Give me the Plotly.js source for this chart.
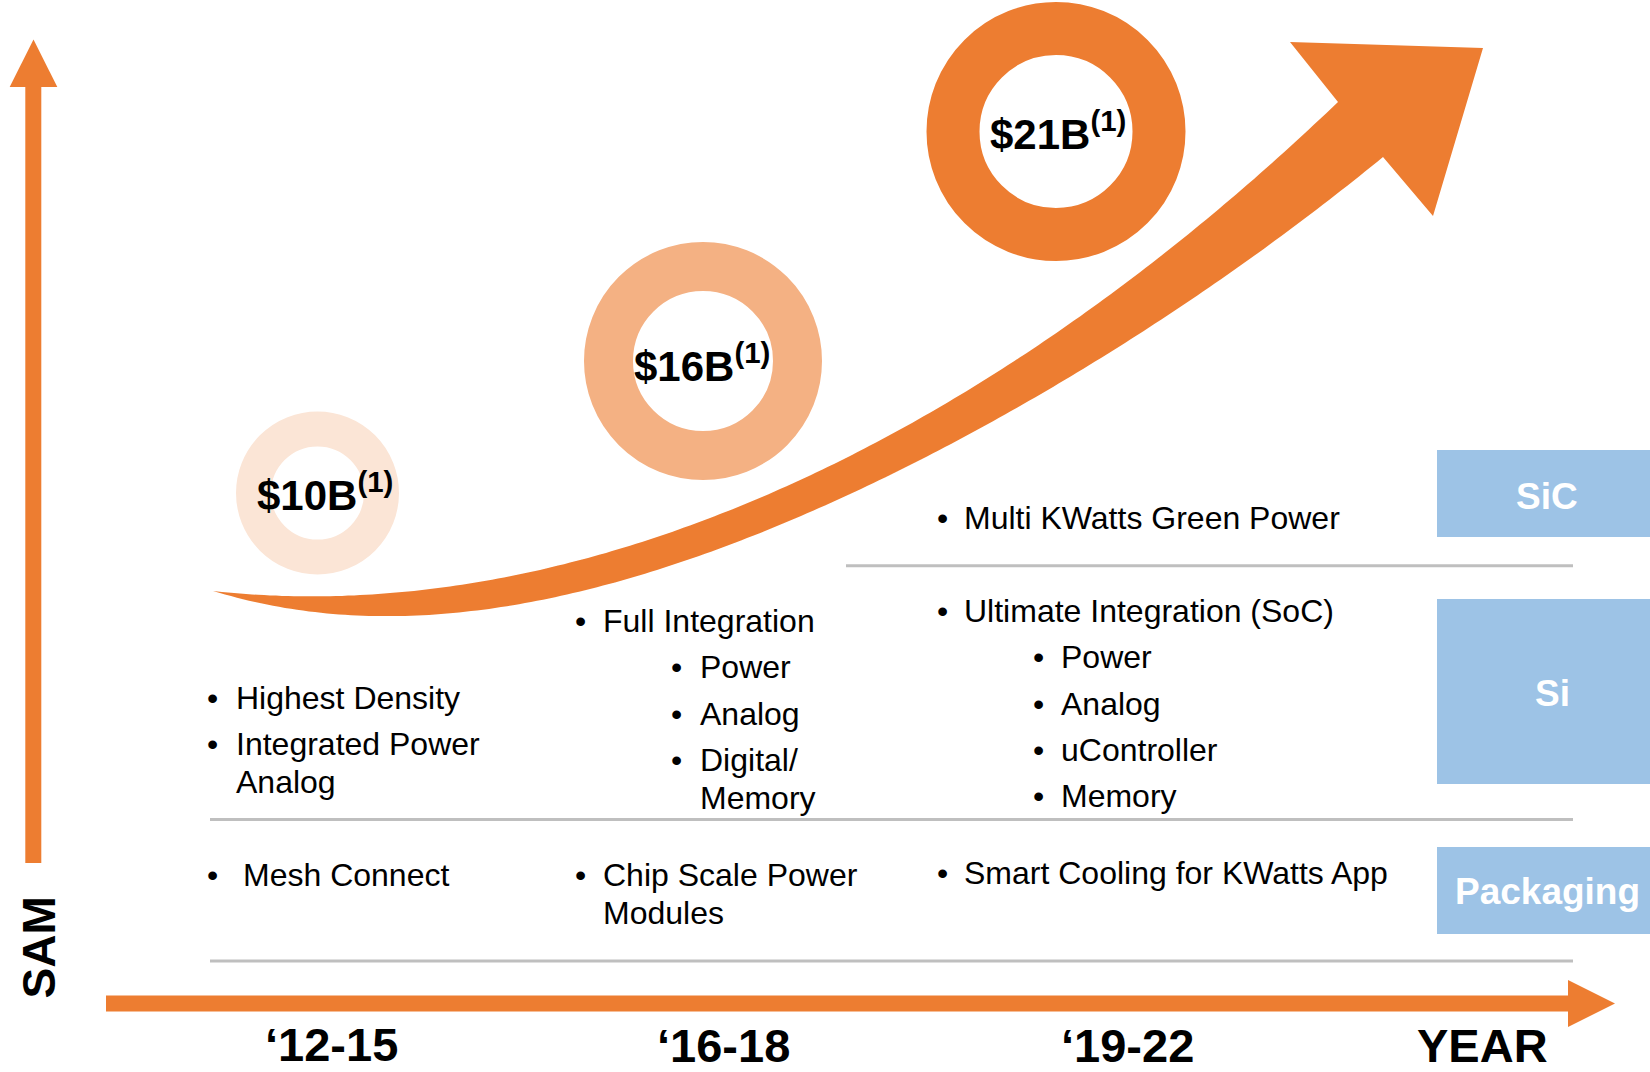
<!DOCTYPE html>
<html>
<head>
<meta charset="utf-8">
<script src="https://cdn.plot.ly/plotly-3.0.1.min.js"></script>
<style>html,body{margin:0;padding:0;background:#fff;}#chart{width:1650px;height:1072px;}</style>
</head>
<body>
<div id="chart"></div>
<script>
// ---------------- DATA ----------------
const periods = ["\u201812-15", "\u201816-18", "\u201819-22"];
const samBillions = [10, 16, 21];
const axisLabels = { y: "SAM", x: "YEAR" };
const techRows = ["SiC", "Si", "Packaging"];
// bullet items per period (each item = list of wrapped lines), with indent level
const sicItems = [[], [], [["Multi KWatts Green Power"]]];
const sicLevels = [[], [], [0]];
const siItems = [
  [["Highest Density"], ["Integrated Power", "Analog"]],
  [["Full Integration"], ["Power"], ["Analog"], ["Digital/", "Memory"]],
  [["Ultimate Integration (SoC)"], ["Power"], ["Analog"], ["uController"], ["Memory"]]
];
const siLevels = [[0, 0], [0, 1, 1, 1], [0, 1, 1, 1, 1]];
const pkgItems = [[["Mesh Connect"]], [["Chip Scale Power", "Modules"]], [["Smart Cooling for KWatts App"]]];
const pkgLevels = [[0], [0], [0]];

// ---------------- LAYOUT / STYLE ----------------
const FONT = "Arial, 'Liberation Sans', Helvetica, sans-serif";
const ORANGE = "#ed7d31";
const ringColors = ["#fbe5d6", "#f4b183", "#ed7d31"];
const ringGeom = [ // cx, cy, outer r, inner r, label cx, label cy
  {cx: 317.5, cy: 493, ro: 81.5, ri: 46.5, lx: 325, ly: 492},
  {cx: 703, cy: 361, ro: 119, ri: 70, lx: 702, ly: 363},
  {cx: 1056, cy: 131.5, ro: 129.5, ri: 76.5, lx: 1058, ly: 131}
];
const colBullet = [212, 580, 942];
const colText = [234, 601, 962];
const pkgText = [241, 601, 962];
const subIndent = 96.5;
const itemPitch = 46.3, wrapPitch = 38;
const sicY = [518, 518, 518];
const siY = [698, 621, 611];
const pkgY = [875, 875, 873];
const periodPos = [[331.5, 1044], [723, 1045], [1127.5, 1045]];
const yearPos = [1482.5, 1045];
const samPos = [38.5, 948];
const boxes = [ {y0: 450, y1: 537, ty: 496}, {y0: 599, y1: 784, ty: 693.5}, {y0: 847, y1: 934, ty: 891.5} ];
const boxX = [1437, 1660], boxTextX = [1547, 1552, 1547];
const BLUE = "#9dc3e6";
const sepLines = [ {x0: 846, x1: 1573, y: 565.7}, {x0: 210, x1: 1573, y: 819.5}, {x0: 210, x1: 1573, y: 961} ];

const shapes = [];
const annotations = [];
function ann(x, y, text, size, o) {
  o = o || {};
  annotations.push(Object.assign({
    x: x, y: y, xref: "x", yref: "y", text: text, showarrow: false,
    xanchor: "left", yanchor: "middle",
    font: {family: FONT, size: size, color: o.color || "#000", weight: o.weight || "normal"}
  }, o.extra || {}));
}

// separator lines
sepLines.forEach(l => shapes.push({type: "line", xref: "x", yref: "y", x0: l.x0, x1: l.x1, y0: l.y, y1: l.y,
  line: {color: "#bfbfbf", width: 3}, layer: "below"}));

// rings
ringGeom.forEach((g, i) => {
  const r = (g.ro + g.ri) / 2, w = g.ro - g.ri;
  shapes.push({type: "circle", xref: "x", yref: "y", x0: g.cx - r, x1: g.cx + r, y0: g.cy - r, y1: g.cy + r,
    line: {color: ringColors[i], width: w}, fillcolor: "rgba(0,0,0,0)", layer: "below"});
  ann(g.lx, g.ly, "$" + samBillions[i] + "B<sup>(1)</sup>", 42, {weight: "bold", extra: {xanchor: "center"}});
});

// axis arrows
shapes.push({type: "rect", xref: "x", yref: "y", x0: 25.3, x1: 41.3, y0: 86, y1: 863, fillcolor: ORANGE, line: {width: 0}});
shapes.push({type: "path", xref: "x", yref: "y", path: "M 9.7 87 L 33.5 39.5 L 57.3 87 Z", fillcolor: ORANGE, line: {width: 0}});
shapes.push({type: "rect", xref: "x", yref: "y", x0: 106, x1: 1569, y0: 995.5, y1: 1011.5, fillcolor: ORANGE, line: {width: 0}});
shapes.push({type: "path", xref: "x", yref: "y", path: "M 1568 980 L 1615 1003.5 L 1568 1027 Z", fillcolor: ORANGE, line: {width: 0}});

// growth arrow: smooth edges via weighted least-squares polynomial fit of traced outline
function polyfit(pts, deg, wts) {
  const n = deg + 1, A = [], b = [];
  for (let i = 0; i < n; i++) { A.push(new Array(n).fill(0)); b.push(0); }
  pts.forEach((p, k) => {
    const u = (p[0] - 800) / 600, w = wts[k];
    const pw = []; for (let i = 0; i < 2 * n; i++) pw.push(Math.pow(u, i));
    for (let i = 0; i < n; i++) { b[i] += w * pw[i] * p[1]; for (let j = 0; j < n; j++) A[i][j] += w * pw[i + j]; }
  });
  for (let i = 0; i < n; i++) {
    let m = i; for (let r = i + 1; r < n; r++) if (Math.abs(A[r][i]) > Math.abs(A[m][i])) m = r;
    [A[i], A[m]] = [A[m], A[i]]; [b[i], b[m]] = [b[m], b[i]];
    for (let r = i + 1; r < n; r++) { const f = A[r][i] / A[i][i]; for (let c = i; c < n; c++) A[r][c] -= f * A[i][c]; b[r] -= f * b[i]; }
  }
  const c = new Array(n).fill(0);
  for (let i = n - 1; i >= 0; i--) { let s = b[i]; for (let j = i + 1; j < n; j++) s -= A[i][j] * c[j]; c[i] = s / A[i][i]; }
  return x => { const u = (x - 800) / 600; let y = 0; for (let i = n - 1; i >= 0; i--) y = y * u + c[i]; return y; };
}
const upperEdge = [[213,591],[300,596],[367,597],[533,573],[600,553],[767,490],[850,453],[950,408],[1050,345],[1123,282],[1183,231],[1338,102]];
const lowerEdge = [[213,591],[300,607],[367,615],[467,614],[600,590],[767,524],[850,493],[950,448],[1050,390],[1150,327],[1217,280],[1383,157]];
function endWeights(pts) { return pts.map((p, i) => (i === 0 || i === pts.length - 1) ? 40 : 1); }
const fu = polyfit(upperEdge, 4, endWeights(upperEdge));
const fl = polyfit(lowerEdge, 4, endWeights(lowerEdge));
let arrowPath = "M 213 591";
for (let x = 222; x < 1338; x += 6) arrowPath += ` L ${x} ${fu(x).toFixed(1)}`;
arrowPath += " L 1338 102 L 1290 42 L 1483 48 L 1433 216 L 1383 157";
for (let x = 1377; x > 213; x -= 6) arrowPath += ` L ${x} ${fl(x).toFixed(1)}`;
arrowPath += " Z";
shapes.push({type: "path", xref: "x", yref: "y", path: arrowPath, fillcolor: ORANGE, line: {width: 0}});

// tech boxes
techRows.forEach((t, i) => {
  shapes.push({type: "rect", xref: "x", yref: "y", x0: boxX[0], x1: boxX[1], y0: boxes[i].y0, y1: boxes[i].y1,
    fillcolor: BLUE, line: {width: 0}});
  ann(boxTextX[i], boxes[i].ty, t, 37, {color: "#ffffff", weight: "bold", extra: {xanchor: "center"}});
});

// bullets
function drawItems(items, levels, startY, textX) {
  items.forEach((colItems, c) => {
    let y = startY[c];
    colItems.forEach((lines, k) => {
      const lvl = levels[c][k];
      const bx = colBullet[c] + lvl * subIndent;
      const tx = (lvl ? colText[c] : textX[c]) + lvl * subIndent;
      ann(bx, y, "\u2022", 32, {extra: {xanchor: "center"}});
      lines.forEach((ln, j) => {
        ann(tx, y + j * wrapPitch, ln, 32);
      });
      y += itemPitch + (lines.length - 1) * wrapPitch;
    });
  });
}
drawItems(sicItems, sicLevels, sicY, colText);
drawItems(siItems, siLevels, siY, colText);
drawItems(pkgItems, pkgLevels, pkgY, pkgText);

// period labels and axis names
periods.forEach((p, i) => ann(periodPos[i][0], periodPos[i][1], p, 47, {weight: "bold", extra: {xanchor: "center"}}));
ann(yearPos[0], yearPos[1], axisLabels.x, 47, {weight: "bold", extra: {xanchor: "center"}});
ann(samPos[0], samPos[1], axisLabels.y, 46, {weight: "bold", extra: {xanchor: "center", textangle: -90}});

const layout = {
  width: 1650, height: 1072,
  margin: {l: 0, r: 0, t: 0, b: 0, pad: 0},
  paper_bgcolor: "#ffffff", plot_bgcolor: "#ffffff",
  xaxis: {range: [0, 1650], visible: false, fixedrange: true},
  yaxis: {range: [1072, 0], visible: false, fixedrange: true},
  showlegend: false,
  shapes: shapes,
  annotations: annotations
};
Plotly.newPlot("chart", [], layout, {staticPlot: true, displayModeBar: false});
</script>
</body>
</html>
